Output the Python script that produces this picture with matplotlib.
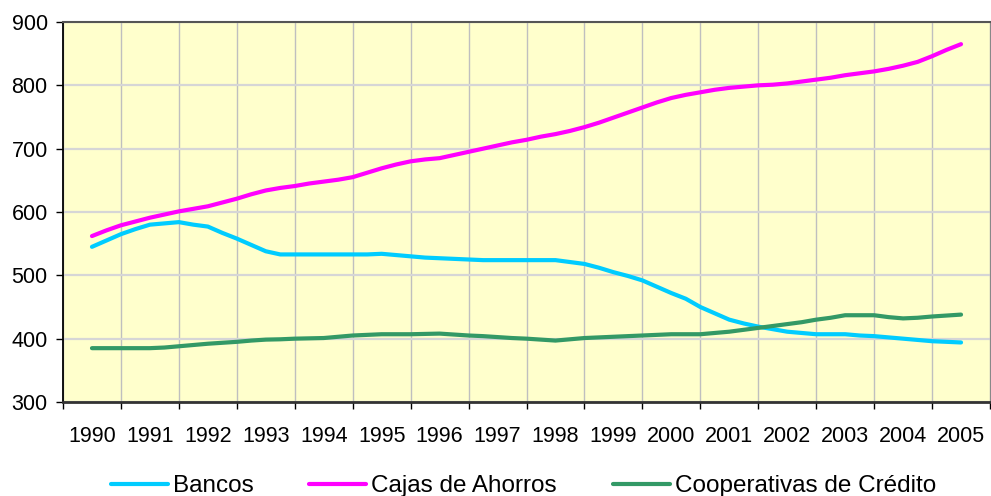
import numpy as np
import matplotlib
matplotlib.use("Agg")
import matplotlib.pyplot as plt

YEARS = list(range(1990, 2006))
# quarterly observations, 1990 Q1 .. 2005 Q1
QUARTERS = [1990 + q * 0.25 for q in range(61)]

BANCOS = [545, 555, 565, 573, 580, 582, 584, 580, 577, 567,
          558, 548, 538, 533, 533, 533, 533, 533, 533, 533,
          534, 532, 530, 528, 527, 526, 525, 524, 524, 524,
          524, 524, 524, 521, 518, 512, 505, 499, 492, 482,
          472, 463, 450, 440, 430, 424, 419, 415, 411, 409,
          407, 407, 407, 405, 404, 402, 400, 398, 396, 395,
          394]
CAJAS = [562, 571, 579, 585, 591, 596, 601, 605, 609, 615,
         621, 628, 634, 638, 641, 645, 648, 651, 655, 662,
         669, 675, 680, 683, 685, 690, 695, 700, 705, 710,
         714, 719, 723, 728, 734, 741, 749, 757, 765, 773,
         780, 785, 789, 793, 796, 798, 800, 801, 803, 806,
         809, 812, 816, 819, 822, 826, 831, 837, 846, 856,
         865]
COOPERATIVAS = [385, 385, 385, 385, 385, 386, 388, 390, 392, 393.5,
                395, 397, 398.5, 399, 400, 400.5, 401, 403, 405, 406,
                407, 407, 407, 407.5, 408, 406.5, 405, 404, 402.5, 401,
                400, 398.5, 397, 399, 401, 402, 403, 404, 405, 406,
                407, 407, 407, 409, 411, 414, 417, 420, 423, 426,
                430, 433, 437, 437, 437, 434, 432, 433, 435, 436.5,
                438]

SERIES = [
    ("Bancos", BANCOS, "#00ccff"),
    ("Cajas de Ahorros", CAJAS, "#ff00ff"),
    ("Cooperativas de Crédito", COOPERATIVAS, "#339966"),
]

plt.rcParams['font.family'] = ['Liberation Sans', 'DejaVu Sans']

fig = plt.figure(figsize=(9.91, 4.96), dpi=100)
ax = fig.add_axes([63 / 991, 1 - 402 / 496, 927 / 991, 380 / 496])
ax.set_facecolor("#ffffcc")

for label, values, color in SERIES:
    ax.plot(QUARTERS, values, color=color, lw=3, label=label,
            solid_capstyle='round', solid_joinstyle='round', zorder=3)

ax.set_xlim(YEARS[0] - 0.5, YEARS[-1] + 0.5)
ax.set_ylim(300, 900)

# labels at category centres, ticks + vertical grid at the boundaries
ax.set_xticks(YEARS)
ax.set_xticklabels([str(y) for y in YEARS])
ax.set_xticks(np.arange(YEARS[0] - 0.5, YEARS[-1] + 1), minor=True)
ax.tick_params(axis='x', which='major', length=0, pad=17, labelsize=15.5)
ax.tick_params(axis='x', which='minor', length=5, width=1, direction='out')
ax.set_yticks(range(300, 901, 100))
ax.tick_params(axis='y', length=5, width=1, direction='out', pad=6, labelsize=15.5)

ax.grid(True, axis='x', which='minor', color='#bfbfbf', lw=1, zorder=1)
ax.grid(True, axis='y', which='major', color='#d6d6d6', lw=1.6, zorder=1)

ax.spines['left'].set_color('black')
ax.spines['left'].set_linewidth(1.3)
ax.spines['bottom'].set_color('#333333')
ax.spines['bottom'].set_linewidth(2)
ax.spines['top'].set_color('#555555')
ax.spines['top'].set_linewidth(1.5)
ax.spines['right'].set_color('#888888')

fig.legend(loc='center', bbox_to_anchor=(0.528, 0.02), ncol=3, frameon=False,
           fontsize=17.5, handlelength=2.35, handletextpad=0.2, columnspacing=2.3,
           borderaxespad=0, borderpad=0)

plt.savefig("out.png", dpi=100)
